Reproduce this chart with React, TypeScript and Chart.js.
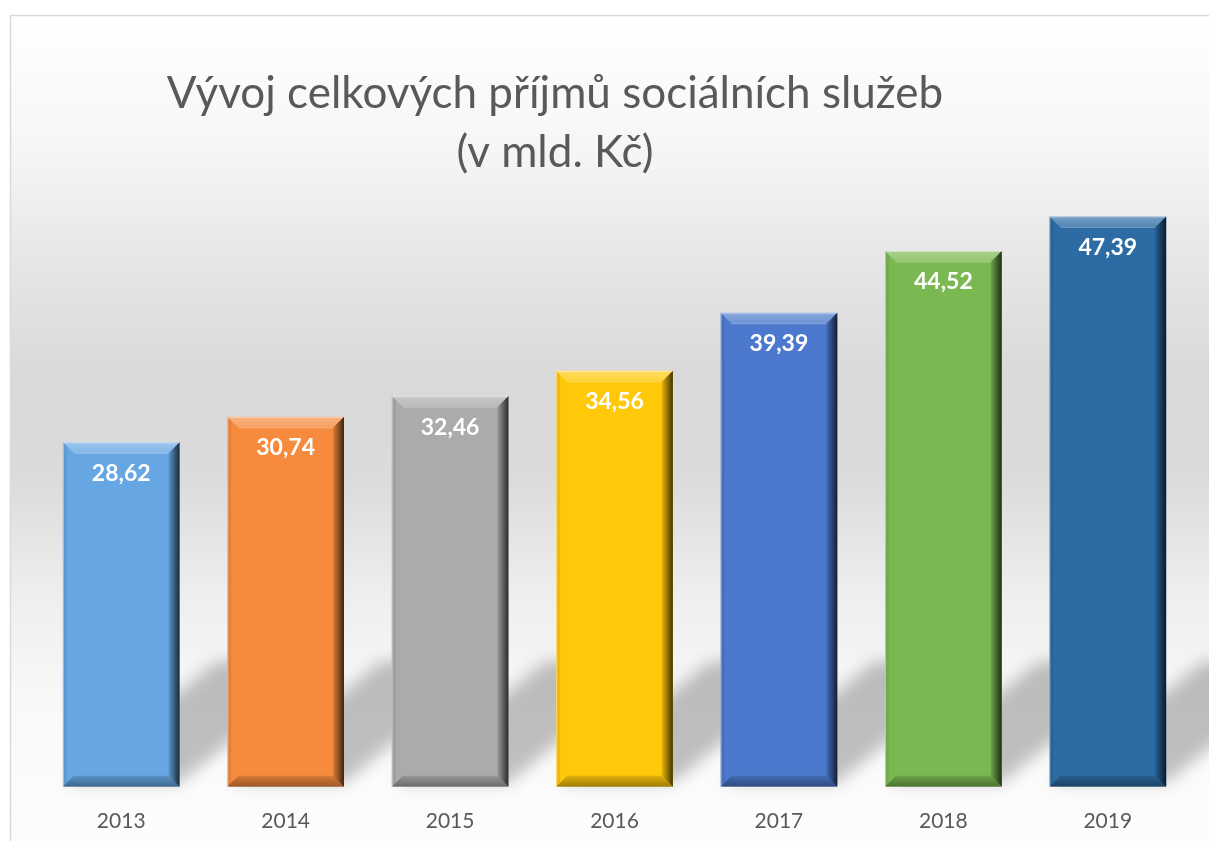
import { useEffect, useRef } from "react";
import { Chart, registerables } from "chart.js";

Chart.register(...registerables);

const categories = ["2013", "2014", "2015", "2016", "2017", "2018", "2019"];
const values = [28.62, 30.74, 32.46, 34.56, 39.39, 44.52, 47.39];
const valueLabels = ["28,62", "30,74", "32,46", "34,56", "39,39", "44,52", "47,39"];
const topColors = ["#66A6E2", "#F68B3E", "#ABABAB", "#FFC90A", "#4C79CD", "#7AB851", "#2C6BA3"];
const bottomColors = ["#3A89D6", "#EA6C1D", "#959595", "#E5AC08", "#3C67B4", "#669E42", "#23588A"];
const titleLines = ["Vývoj celkových příjmů sociálních služeb", "(v mld. Kč)"];

const FONT = "Lato, 'Open Sans', sans-serif";
const VIEW_H = 841;

const backgroundPlugin = {
  id: "bg",
  beforeDraw(chart: any) {
    const { ctx, width, height } = chart;
    ctx.save();
    ctx.fillStyle = "#ffffff";
    ctx.fillRect(0, 0, width, height);
    const g = ctx.createLinearGradient(0, 15, 0, VIEW_H);
    g.addColorStop(0, "#ffffff");
    g.addColorStop(0.16, "#f6f6f6");
    g.addColorStop(0.3, "#e6e6e6");
    g.addColorStop(0.44, "#d9d9d9");
    g.addColorStop(0.56, "#dbdbdb");
    g.addColorStop(0.7, "#eeeeee");
    g.addColorStop(0.84, "#f9f9f9");
    g.addColorStop(1, "#fdfdfd");
    ctx.fillStyle = g;
    ctx.fillRect(11, 16, width - 11, height - 16);
    ctx.strokeStyle = "#d9d9d9";
    ctx.lineWidth = 1.5;
    ctx.beginPath();
    ctx.moveTo(10.5, height);
    ctx.lineTo(10.5, 15.5);
    ctx.lineTo(width, 15.5);
    ctx.stroke();
    ctx.restore();
  },
};

const titlePlugin = {
  id: "customTitle",
  afterDraw(chart: any) {
    const { ctx } = chart;
    ctx.save();
    ctx.fillStyle = "#595959";
    ctx.font = `44px ${FONT}`;
    ctx.textAlign = "center";
    ctx.textBaseline = "alphabetic";
    ctx.fillText(titleLines[0], 555, 108);
    ctx.fillText(titleLines[1], 555, 167);
    ctx.restore();
  },
};

const shadowPlugin = {
  id: "barShadow",
  beforeDatasetsDraw(chart: any) {
    const { ctx } = chart;
    const meta = chart.getDatasetMeta(0);
    ctx.save();
    ctx.filter = "blur(8px)";
    ctx.fillStyle = "rgba(0,0,0,0.24)";
    meta.data.forEach((el: any) => {
      const L = el.x - el.width / 2;
      const R = el.x + el.width / 2;
      const B = el.base;
      const dx = 150;
      const dy = 125;
      ctx.beginPath();
      ctx.moveTo(L + 4, B - 4);
      ctx.lineTo(R, B - 4);
      ctx.lineTo(R + dx, B - dy);
      ctx.lineTo(L + dx + 4, B - dy);
      ctx.closePath();
      ctx.fill();
    });
    ctx.restore();
  },
};

const bevelPlugin = {
  id: "bevel",
  afterDatasetsDraw(chart: any) {
    const { ctx } = chart;
    const meta = chart.getDatasetMeta(0);
    meta.data.forEach((el: any, i: number) => {
      const L = el.x - el.width / 2;
      const R = el.x + el.width / 2;
      const T = el.y;
      const B = el.base;
      const b = 11;
      ctx.save();
      let g = ctx.createLinearGradient(0, T, 0, T + b);
      g.addColorStop(0, "rgba(255,255,255,0.35)");
      g.addColorStop(1, "rgba(255,255,255,0.18)");
      ctx.fillStyle = g;
      ctx.beginPath();
      ctx.moveTo(L, T);
      ctx.lineTo(R, T);
      ctx.lineTo(R - b, T + b);
      ctx.lineTo(L + b, T + b);
      ctx.closePath();
      ctx.fill();
      ctx.fillStyle = "rgba(0,0,0,0.07)";
      ctx.beginPath();
      ctx.moveTo(L, T);
      ctx.lineTo(L + 4, T + 4);
      ctx.lineTo(L + 4, B - 4);
      ctx.lineTo(L, B);
      ctx.closePath();
      ctx.fill();
      g = ctx.createLinearGradient(0, B - b, 0, B);
      g.addColorStop(0, "rgba(0,0,0,0.12)");
      g.addColorStop(1, "rgba(0,0,0,0.38)");
      ctx.fillStyle = g;
      ctx.beginPath();
      ctx.moveTo(L, B);
      ctx.lineTo(R, B);
      ctx.lineTo(R - b, B - b);
      ctx.lineTo(L + b, B - b);
      ctx.closePath();
      ctx.fill();
      g = ctx.createLinearGradient(R - b, 0, R, 0);
      g.addColorStop(0, "rgba(0,0,0,0.1)");
      g.addColorStop(1, "rgba(0,0,0,0.75)");
      ctx.fillStyle = g;
      ctx.beginPath();
      ctx.moveTo(R, T);
      ctx.lineTo(R, B);
      ctx.lineTo(R - b, B - b);
      ctx.lineTo(R - b, T + b);
      ctx.closePath();
      ctx.fill();
      ctx.strokeStyle = "rgba(255,255,255,0.45)";
      ctx.lineWidth = 1;
      ctx.beginPath();
      ctx.moveTo(L + 0.5, B);
      ctx.lineTo(L + 0.5, T + 0.5);
      ctx.lineTo(R - 0.5, T + 0.5);
      ctx.stroke();
      ctx.strokeStyle = "rgba(255,255,255,0.25)";
      ctx.beginPath();
      ctx.moveTo(L + b, T + b);
      ctx.lineTo(R - b, T + b);
      ctx.stroke();
      ctx.fillStyle = "#ffffff";
      ctx.font = `bold 23px ${FONT}`;
      ctx.textAlign = "center";
      ctx.textBaseline = "middle";
      ctx.fillText(valueLabels[i], el.x, T + 31);
      ctx.restore();
    });
  },
};

export default function App() {
  const ref = useRef<HTMLCanvasElement | null>(null);
  useEffect(() => {
    if (!ref.current) return;
    const chart = new Chart(ref.current, {
      type: "bar",
      data: {
        labels: categories,
        datasets: [
          {
            data: values,
            backgroundColor: (c: any) => {
              const i = c.dataIndex;
              const el = c.element;
              if (!el || el.y === undefined || isNaN(el.y)) return topColors[i];
              const g = c.chart.ctx.createLinearGradient(0, el.y, 0, el.base);
              g.addColorStop(0, topColors[i]);
              g.addColorStop(1, bottomColors[i]);
              return g;
            },
            borderWidth: 0,
            categoryPercentage: 1,
            barPercentage: 0.71,
          },
        ],
      },
      options: {
        responsive: false,
        animation: false,
        layout: { padding: { top: 185, left: 39, right: 19, bottom: 6 } },
        plugins: {
          legend: { display: false },
          title: { display: false },
          tooltip: { enabled: false },
        },
        scales: {
          x: {
            grid: { display: false, drawTicks: false },
            border: { display: false },
            ticks: {
              color: "#595959",
              font: { family: FONT, size: 21 },
              padding: 22,
            },
          },
          y: {
            display: false,
            min: 0,
            max: 50,
          },
        },
      },
      plugins: [backgroundPlugin, shadowPlugin, bevelPlugin, titlePlugin],
    });
    return () => chart.destroy();
  }, []);
  return (
    <div style={{ position: "fixed", left: 0, top: 0, width: 1209, height: 862, overflow: "hidden" }}>
      <canvas ref={ref} width={1209} height={862} style={{ display: "block" }} />
    </div>
  );
}
